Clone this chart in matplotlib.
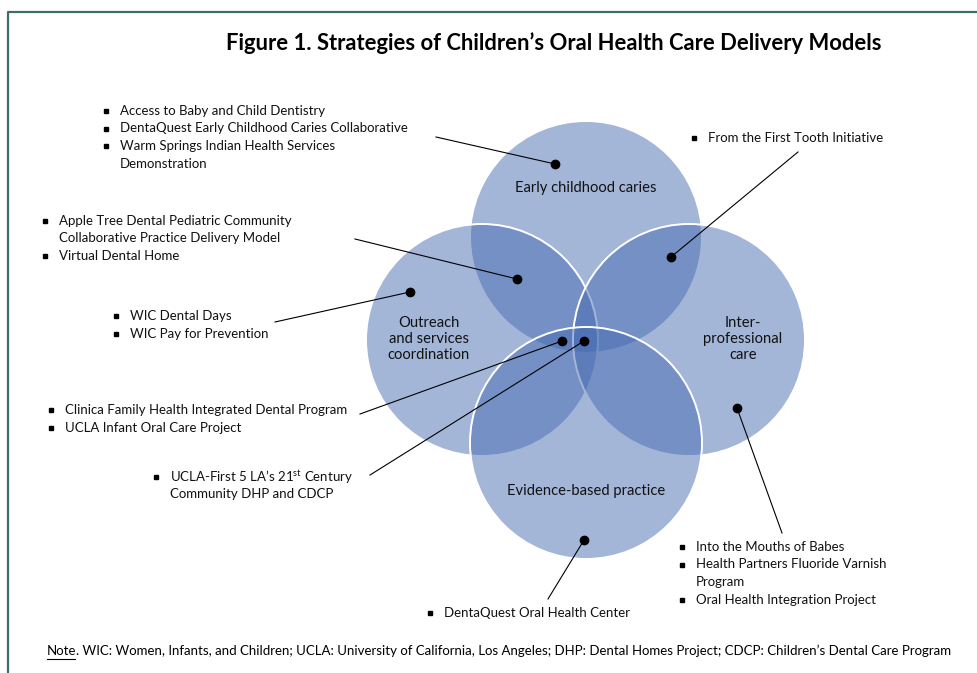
import matplotlib.pyplot as plt
from matplotlib.patches import Circle

plt.rcParams['font.family'] = ['Lato', 'DejaVu Sans']
plt.rcParams['mathtext.fontset'] = 'custom'
plt.rcParams['mathtext.rm'] = 'Lato'

title = 'Figure 1. Strategies of Children\u2019s Oral Health Care Delivery Models'
note_word = 'Note'
note = ('. WIC: Women, Infants, and Children; UCLA: University of California, Los Angeles; '
        'DHP: Dental Homes Project; CDCP: Children\u2019s Dental Care Program')

# circle names (top, left, right, bottom)
circle_labels = ['Early childhood caries',
                 'Outreach\nand services\ncoordination',
                 'Inter-\nprofessional\ncare',
                 'Evidence-based practice']

# program lists, each item may wrap onto a second line
grp_ecc = ['Access to Baby and Child Dentistry',
           'DentaQuest Early Childhood Caries Collaborative',
           'Warm Springs Indian Health Services\nDemonstration']
grp_ecc_outreach = ['Apple Tree Dental Pediatric Community\nCollaborative Practice Delivery Model',
                    'Virtual Dental Home']
grp_outreach = ['WIC Dental Days', 'WIC Pay for Prevention']
grp_ecc_ipc = ['From the First Tooth Initiative']
grp_three = ['Clinica Family Health Integrated Dental Program',
             'UCLA Infant Oral Care Project']
grp_all = ['UCLA-First 5 LA\u2019s 21$^{\\rm st}$ Century\nCommunity DHP and CDCP']
grp_ipc = ['Into the Mouths of Babes',
           'Health Partners Fluoride Varnish\nProgram',
           'Oral Health Integration Project']
grp_ebp = ['DentaQuest Oral Health Center']

# layout (pixel coords)
centres = [(586, 237), (482, 340), (689, 340), (586, 443)]
radius = 116
# group -> (bullet x, first line y, line start, dot)
groups = [
    (grp_ecc, 106, 111, (436, 137), (555, 164)),
    (grp_ecc_outreach, 45, 221, (355, 239), (517, 279)),
    (grp_outreach, 116, 316, (275, 322), (410, 292)),
    (grp_ecc_ipc, 694, 138, (798, 152), (671, 257)),
    (grp_three, 51, 410, (360, 414), (562, 341)),
    (grp_all, 156, 477, (370, 475), (584, 341)),
    (grp_ipc, 682, 547, (782, 533), (737, 408)),
    (grp_ebp, 430, 613, (548, 599), (584, 540)),
]
label_pos = [(586, 188), (429, 339), (743, 339), (586, 491)]

fig = plt.figure(figsize=(9.77, 6.73), dpi=100)
ax = fig.add_axes([0, 0, 1, 1])
ax.set_xlim(0, 977)
ax.set_ylim(673, 0)
ax.axis('off')

# frame
ax.plot([8, 8, 977], [673, 12, 12], color='#3f6e6a', lw=1.6, solid_capstyle='butt')

for (cx, cy) in centres:
    ax.add_patch(Circle((cx, cy), radius, facecolor=(0.263, 0.416, 0.694, 0.49),
                        edgecolor='white', lw=1.4))

for lab, (x, y) in zip(circle_labels, label_pos):
    ax.text(x, y, lab, ha='center', va='center', fontsize=10.6, color='#111111',
            linespacing=1.2)

lh = 17.5
for items, bx, y0, p0, p1 in groups:
    y = y0
    for it in items:
        ax.plot(bx, y, marker='s', ms=3.4, color='black')
        for ln in it.split('\n'):
            ax.text(bx + 14, y, ln, ha='left', va='center', fontsize=9.5, color='#111111')
            y += lh
    ax.plot([p0[0], p1[0]], [p0[1], p1[1]], color='black', lw=0.8)
    ax.plot(p1[0], p1[1], marker='o', ms=6, color='black')

ax.text(554, 43, title, ha='center', va='center', fontsize=15.8, fontweight='bold')

# note line, with the word "Note" underlined
r = fig.canvas.get_renderer()
t = ax.text(47, 651, note_word, ha='left', va='center', fontsize=9.5)
w = t.get_window_extent(renderer=r).width
ax.text(47 + w, 651, note, ha='left', va='center', fontsize=9.5)
ax.plot([47, 47 + w - 2], [659, 659], color='black', lw=0.8)

fig.savefig('out.png', dpi=100)
